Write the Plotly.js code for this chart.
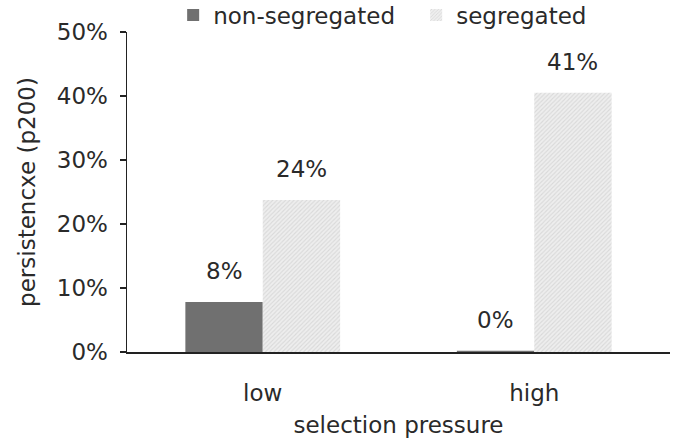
<!DOCTYPE html>
<html><head><meta charset="utf-8">
<script src="https://cdn.plot.ly/plotly-3.0.1.min.js"></script>
<style>body{margin:0;background:#fff}#chart{width:678px;height:444px}</style>
</head><body><div id="chart"></div>
<script>
const categories = ['low', 'high'];
const seriesNames = ['non-segregated', 'segregated'];
const nonSegregated = [0.078, 0.002];
const segregated = [0.2375, 0.405];
const yTickVals = [0, 0.1, 0.2, 0.3, 0.4, 0.5];
const yTickText = ['0%', '10%', '20%', '30%', '40%', '50%'];

const font = {family: 'DejaVu Sans, Liberation Sans, Arial, sans-serif', size: 23, color: '#2a2a2a'};

const traces = [
  {type: 'bar', name: seriesNames[0], x: categories, y: nonSegregated,
   marker: {color: '#707070', line: {width: 0}}},
  {type: 'bar', name: seriesNames[1], x: categories, y: segregated,
   marker: {color: '#ececec', line: {width: 0},
            pattern: {shape: '/', fgcolor: '#d9d9d9', bgcolor: '#eeeeee', size: 3, solidity: 0.35}}}
];

// value labels above each bar, offset to each bar of the group
const halfBar = 38.5;
const annotations = [];
[nonSegregated, segregated].forEach((vals, si) => {
  vals.forEach((v, ci) => {
    annotations.push({
      x: categories[ci], y: v, xref: 'x', yref: 'y',
      text: Math.round(v * 100) + '%', showarrow: false,
      xshift: si === 0 ? -halfBar : halfBar, yshift: 16,
      yanchor: 'bottom', font: font
    });
  });
});

const layout = {
  width: 678, height: 444,
  margin: {l: 127, r: 8, t: 32, b: 92, autoexpand: false},
  paper_bgcolor: '#fff', plot_bgcolor: '#fff',
  font: font,
  barmode: 'group', bargap: 0.43, bargroupgap: 0,
  showlegend: true,
  legend: {orientation: 'h', x: 0.085, xanchor: 'left', y: 1.053, yanchor: 'middle',
           font: font, itemwidth: 30, traceorder: 'normal', entrywidth: 198, entrywidthmode: 'pixels'},
  annotations: annotations,
  xaxis: {
    type: 'category', showline: true, linecolor: '#222', linewidth: 1.5,
    ticks: 'outside', ticklen: 20, tickcolor: 'rgba(0,0,0,0)',
    showgrid: false, zeroline: false, tickfont: font,
    title: {text: 'selection pressure', font: font, standoff: 12}
  },
  yaxis: {
    range: [0, 0.5], tickvals: yTickVals, ticktext: yTickText,
    showline: true, linecolor: '#222', linewidth: 1.5,
    ticks: 'outside', ticklen: 6, tickcolor: '#222', tickwidth: 1.2,
    ticklabelstandoff: 7,
    showgrid: false, zeroline: false, tickfont: font,
    title: {text: 'persistencxe (p200)', font: font, standoff: 14}
  }
};

Plotly.newPlot('chart', traces, layout, {displayModeBar: false, staticPlot: true});
</script></body></html>
